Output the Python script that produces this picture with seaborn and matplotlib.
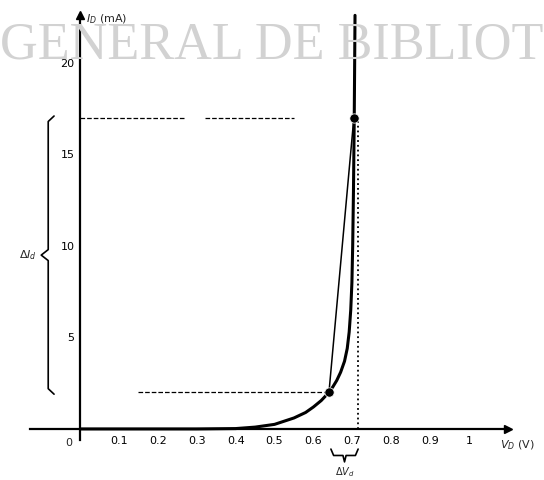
import numpy as np
import pandas as pd
import seaborn as sns
import matplotlib
matplotlib.use('Agg')
import matplotlib.pyplot as plt

# diode characteristic
vd = [0.0, 0.1, 0.2, 0.3, 0.4, 0.45, 0.5, 0.55, 0.58, 0.6, 0.62, 0.64, 0.65, 0.66, 0.67, 0.68, 0.687,
      0.692, 0.696, 0.699, 0.701, 0.703, 0.705, 0.707]
idd = [0.0, 0.0, 0.0, 0.0, 0.02, 0.1, 0.25, 0.6, 0.9, 1.2, 1.55, 2.0, 2.3, 2.65, 3.1, 3.7, 4.4,
       5.3, 6.5, 8.0, 10.0, 13.0, 17.0, 22.6]

pt_v = [0.64, 0.704]
pt_i = [2.0, 17.0]

xticks = [0.1, 0.2, 0.3, 0.4, 0.5, 0.6, 0.7, 0.8, 0.9, 1.0]
xlabels = ['0.1', '0.2', '0.3', '0.4', '0.5', '0.6', '0.7', '0.8', '0.9', '1']
yticks = [5, 10, 15, 20]
ylabels = ['5', '10', '15', '20']

curva = pd.DataFrame({'VD': vd, 'ID': idd})
pontos = pd.DataFrame({'VD': pt_v, 'ID': pt_i})

sns.set_style('white')
plt.rcParams['font.family'] = ['DejaVu Sans']

fig = plt.figure(figsize=(5.44, 4.8), dpi=100)
ax = fig.add_axes([0, 0, 1, 1])
ax.set_xlim(-0.206, 1.193)
ax.set_ylim(-2.79, 23.44)

# watermark of the scan
fig.text(0.0, 0.906, 'GENERAL DE BIBLIOT', family='Liberation Serif', fontsize=37.6,
         color='#d2d2d2', va='center', ha='left', zorder=0)

# axes drawn through the origin
for s in ['top', 'right']:
    ax.spines[s].set_visible(False)
ax.spines['left'].set_position(('data', 0))
ax.spines['bottom'].set_position(('data', 0))
ax.spines['left'].set_bounds(-0.6, 22.6)
ax.spines['bottom'].set_bounds(-0.13, 1.1)
for s in ['left', 'bottom']:
    ax.spines[s].set_linewidth(1.6)
    ax.spines[s].set_color('black')
ax.plot(1.1, 0, marker='>', color='black', markersize=6, clip_on=False)
ax.plot(0, 22.6, marker='^', color='black', markersize=6, clip_on=False)

ax.set_xticks(xticks, xlabels)
ax.set_yticks(yticks, ylabels)
ax.tick_params(axis='x', direction='in', length=8, width=1.4, labelsize=8, pad=5,
               colors='black')
ax.tick_params(axis='y', direction='in', length=12, width=1.4, labelsize=8, pad=4,
               colors='black')
ax.text(-0.03, -0.5, '0', fontsize=8, ha='center', va='top')
ax.text(0.015, 22.4, '$I_D$ (mA)', fontsize=8, ha='left', va='center')
ax.text(1.08, -0.5, '$V_D$ (V)', fontsize=8, ha='left', va='top')

# dashed guides
ax.plot([0, 0.27], [17, 17], ls='--', color='black', lw=0.9)
ax.plot([0.32, 0.55], [17, 17], ls='--', color='black', lw=0.9)
ax.plot([0.15, 0.64], [2, 2], ls='--', color='black', lw=0.9)
ax.plot([0.714, 0.714], [0, 17], ls=':', color='black', lw=1.3)

# curve, secant and points
sns.lineplot(data=curva, x='VD', y='ID', color='black', linewidth=2.2, ax=ax, sort=False)
ax.plot(pt_v, pt_i, color='black', lw=1.1)
sns.scatterplot(data=pontos, x='VD', y='ID', color='black', s=45, ax=ax, zorder=5)
ax.set_xlabel('')
ax.set_ylabel('')

# braces
bx = -0.082
ax.plot([bx + 0.015, bx, bx, bx - 0.018, bx, bx, bx + 0.015],
        [17.1, 16.8, 9.8, 9.5, 9.2, 2.2, 1.9], color='black', lw=1.2)
ax.text(bx - 0.03, 9.5, '$\\Delta I_d$', fontsize=8, ha='right', va='center')
by = -1.45
ax.plot([0.645, 0.652, 0.676, 0.68, 0.684, 0.708, 0.715],
        [by + 0.35, by, by, by - 0.35, by, by, by + 0.35], color='black', lw=1.2)
ax.text(0.68, -2.0, '$\\Delta V_d$', fontsize=7, ha='center', va='top')

fig.savefig('out.png', dpi=100)
